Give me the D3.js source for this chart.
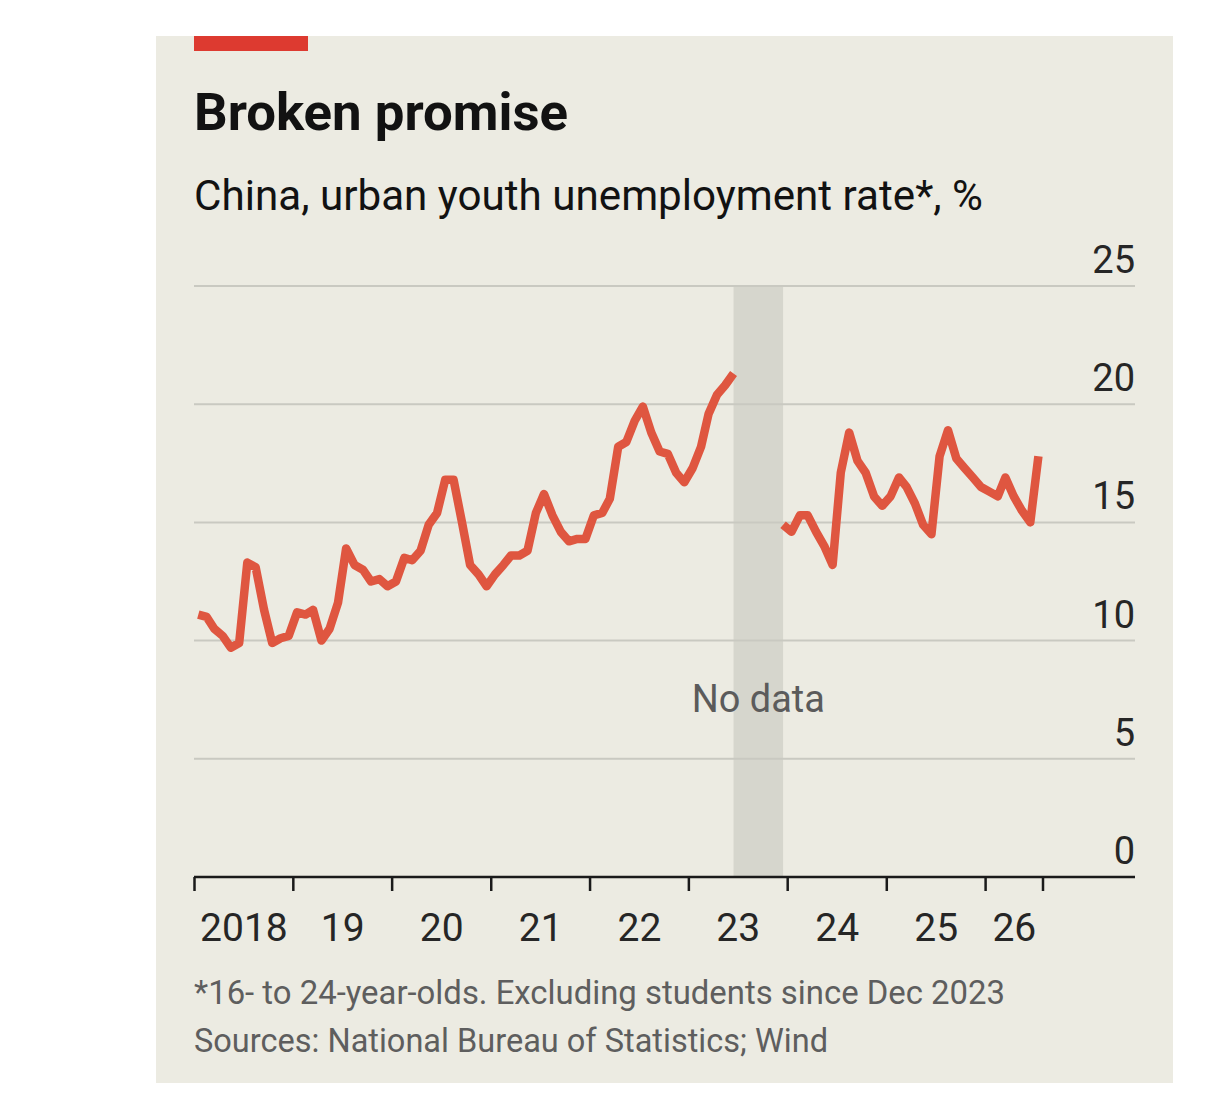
<!DOCTYPE html>
<html>
<head>
<meta charset="utf-8">
<script src="https://cdn.jsdelivr.net/npm/d3@7"></script>
<style>
  body { margin: 0; background: #fff; }
  svg text { font-family: Roboto, "Noto Sans", sans-serif; }
</style>
</head>
<body>
<svg id="chart" width="1205" height="1105"></svg>
<script>
// urban youth unemployment, %, monthly
const series1Start = "2018-01";
const series1 = [
  11.1, 11.0, 10.5, 10.2, 9.7, 9.9, 13.3, 13.1, 11.3, 9.9, 10.1, 10.2,   // 2018
  11.2, 11.1, 11.3, 10.0, 10.5, 11.6, 13.9, 13.2, 13.0, 12.5, 12.6, 12.3, // 2019
  12.5, 13.5, 13.4, 13.8, 14.9, 15.4, 16.8, 16.8, 15.0, 13.2, 12.8, 12.3, // 2020
  12.8, 13.2, 13.6, 13.6, 13.8, 15.4, 16.2, 15.3, 14.6, 14.2, 14.3, 14.3, // 2021
  15.3, 15.4, 16.0, 18.2, 18.4, 19.3, 19.9, 18.8, 18.0, 17.9, 17.1, 16.7, // 2022
  17.3, 18.2, 19.6, 20.4, 20.8, 21.3                                      // 2023
];
// new series, excluding students
const series2Start = "2023-12";
const series2 = [
  14.9,
  14.6, 15.3, 15.3, 14.6, 14.0, 13.2, 17.1, 18.8, 17.6, 17.1, 16.1, 15.7, // 2024
  16.1, 16.9, 16.5, 15.8, 14.9, 14.5, 17.8, 18.9, 17.7, 17.3, 16.9, 16.5, // 2025
  16.3, 16.1, 16.9, 16.1, 15.5, 15.0, 17.8                                // 2026
];
const noDataFrom = "2023-06";
const noDataTo = "2023-12";
const yearTicks = ["2018", "2019", "2020", "2021", "2022", "2023", "2024", "2025", "2026"];
const yearLabels = ["2018", "19", "20", "21", "22", "23", "24", "25", "26"];
const axisEnd = "2026-08";
const yTicks = [0, 5, 10, 15, 20, 25];

const title = "Broken promise";
const subtitle = "China, urban youth unemployment rate*, %";
const notes = ["*16- to 24-year-olds. Excluding students since Dec 2023",
               "Sources: National Bureau of Statistics; Wind"];

const svg = d3.select("#chart");
const parseMonth = d3.utcParse("%Y-%m");
const parseYear = d3.utcParse("%Y");
const midMonth = d => d3.utcDay.offset(d, 14);

function toPoints(start, values) {
  const s = parseMonth(start);
  return values.map((v, i) => ({ date: midMonth(d3.utcMonth.offset(s, i)), value: v }));
}
const seg1 = toPoints(series1Start, series1);
const seg2 = toPoints(series2Start, series2);

const x = d3.scaleUtc()
  .domain([parseYear("2018"), parseMonth(axisEnd)])
  .range([194.5, 1043]);
const y = d3.scaleLinear().domain([0, 25]).range([877, 286]);
const plotRight = 1135;

// panel
svg.append("rect").attr("x", 156).attr("y", 36).attr("width", 1017).attr("height", 1047)
  .attr("fill", "#ecebe2");
svg.append("rect").attr("x", 194).attr("y", 36).attr("width", 114).attr("height", 15)
  .attr("fill", "#dd3a30");

svg.append("text").attr("x", 194).attr("y", 130)
  .attr("font-size", 52).attr("font-weight", 700).attr("fill", "#121212")
  .attr("textLength", 374).attr("lengthAdjust", "spacingAndGlyphs")
  .text(title);
svg.append("text").attr("x", 194).attr("y", 210)
  .attr("font-size", 42).attr("fill", "#121212")
  .attr("textLength", 789).attr("lengthAdjust", "spacingAndGlyphs")
  .text(subtitle);

// no data band
const bandX0 = x(midMonth(parseMonth(noDataFrom)));
const bandX1 = x(midMonth(parseMonth(noDataTo)));
svg.append("rect")
  .attr("x", bandX0)
  .attr("y", y(25) + 1)
  .attr("width", bandX1 - bandX0)
  .attr("height", y(0) - y(25) - 1)
  .attr("fill", "#d6d6cd");

// gridlines
svg.append("g").selectAll("line")
  .data(yTicks.filter(d => d > 0))
  .join("line")
  .attr("x1", 194).attr("x2", plotRight)
  .attr("y1", d => y(d)).attr("y2", d => y(d))
  .attr("stroke", "#c9c9c1").attr("stroke-width", 2);

svg.append("g").selectAll("text")
  .data(yTicks)
  .join("text")
  .attr("x", plotRight).attr("y", d => y(d) - 13)
  .attr("text-anchor", "end")
  .attr("font-size", 38).attr("fill", "#262626")
  .text(d => d);

svg.append("text")
  .attr("x", (bandX0 + bandX1) / 2)
  .attr("y", 712).attr("text-anchor", "middle")
  .attr("font-size", 39).attr("fill", "#5b5b5b")
  .attr("textLength", 133).attr("lengthAdjust", "spacingAndGlyphs")
  .text("No data");

// x axis
const tickDates = yearTicks.map(parseYear).concat([parseMonth(axisEnd)]);
svg.append("line").attr("x1", 194).attr("x2", plotRight)
  .attr("y1", y(0)).attr("y2", y(0))
  .attr("stroke", "#1a1a1a").attr("stroke-width", 2.5);
svg.append("g").selectAll("line")
  .data(tickDates)
  .join("line")
  .attr("x1", d => x(d)).attr("x2", d => x(d))
  .attr("y1", y(0)).attr("y2", y(0) + 14)
  .attr("stroke", "#1a1a1a").attr("stroke-width", 2.5);
svg.append("g").selectAll("text")
  .data(yearLabels)
  .join("text")
  .attr("x", (d, i) => (x(tickDates[i]) + x(tickDates[i + 1])) / 2)
  .attr("y", 941)
  .attr("text-anchor", "middle")
  .attr("font-size", 39).attr("fill", "#262626")
  .text(d => d);

// line
const line = d3.line().x(d => x(d.date)).y(d => y(d.value));
svg.append("g").selectAll("path")
  .data([seg1, seg2])
  .join("path")
  .attr("d", line)
  .attr("fill", "none")
  .attr("stroke", "#df5640")
  .attr("stroke-width", 8.5)
  .attr("stroke-linejoin", "round");

// footnote
svg.append("g").selectAll("text")
  .data(notes)
  .join("text")
  .attr("x", 194).attr("y", (d, i) => 1004 + i * 48)
  .attr("font-size", 33).attr("fill", "#5e5e5e")
  .attr("textLength", (d, i) => i === 0 ? 811 : 634)
  .attr("lengthAdjust", "spacingAndGlyphs")
  .text(d => d);
</script>
</body>
</html>
